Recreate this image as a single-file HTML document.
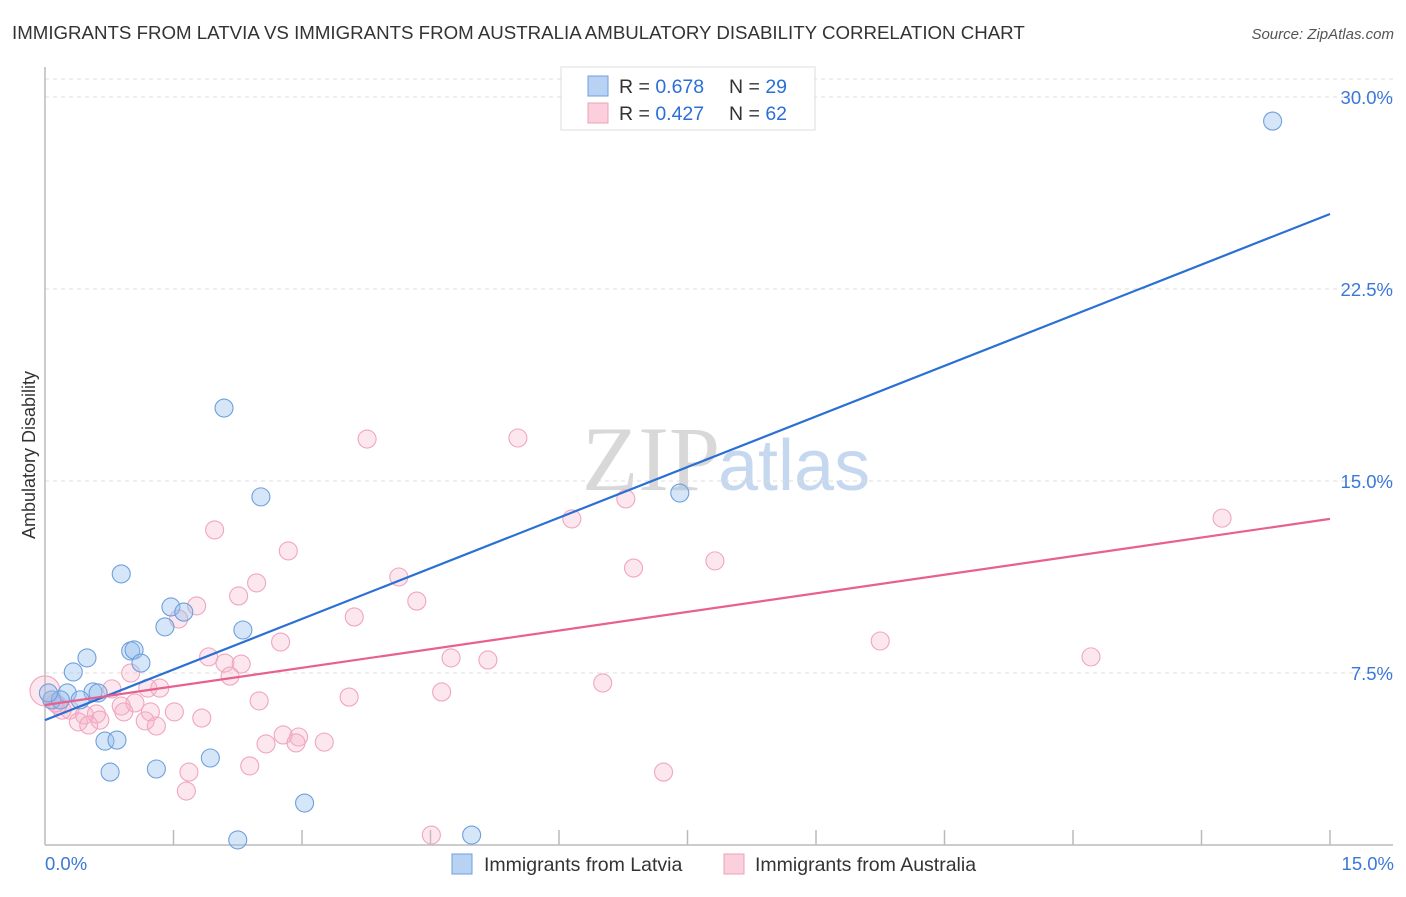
<!DOCTYPE html>
<html><head><meta charset="utf-8"><style>
body{margin:0;background:#fff;font-family:"Liberation Sans",sans-serif;}
</style></head><body>
<svg width="1406" height="892" xmlns="http://www.w3.org/2000/svg" style="font-family:'Liberation Sans',sans-serif">
<text x="12" y="39" font-size="18.7" fill="#333">IMMIGRANTS FROM LATVIA VS IMMIGRANTS FROM AUSTRALIA AMBULATORY DISABILITY CORRELATION CHART</text>
<text x="1394" y="39" font-size="15" fill="#555" font-style="italic" text-anchor="end">Source: ZipAtlas.com</text>
<text x="720" y="490" font-size="92" fill="#d8d8d8" text-anchor="end" font-family="'Liberation Serif',serif">ZIP</text>
<text x="718" y="490" font-size="72" fill="#c6d8ef">atlas</text>
<g id="grid"></g>
<g id="axes"></g>
<g id="pts"></g>
<g id="lines"></g>
<text transform="translate(35,455) rotate(-90)" font-size="18" fill="#333" text-anchor="middle">Ambulatory Disability</text>
<text x="45" y="870" font-size="18.5" fill="#3a78d8">0.0%</text>
<text x="1394" y="870" font-size="18.5" fill="#3a78d8" text-anchor="end">15.0%</text>
<g>
<rect x="561" y="67" width="254" height="63" fill="#fff" stroke="#ddd"/>
<rect x="588" y="76" width="20" height="20" fill="#b8d2f3" stroke="#6f9fdd"/>
<rect x="588" y="103" width="20" height="20" fill="#fbd0dc" stroke="#eea0ba"/>
<text x="619" y="93" font-size="19.5" fill="#333">R = <tspan fill="#2a6fd6">0.678</tspan></text>
<text x="729" y="93" font-size="19.5" fill="#333">N = <tspan fill="#2a6fd6">29</tspan></text>
<text x="619" y="120" font-size="19.5" fill="#333">R = <tspan fill="#2a6fd6">0.427</tspan></text>
<text x="729" y="120" font-size="19.5" fill="#333">N = <tspan fill="#2a6fd6">62</tspan></text>
</g>
<g><rect x="452" y="854" width="20" height="20" fill="#b8d2f3" stroke="#6f9fdd"/><text x="484" y="871" font-size="19.5" fill="#333">Immigrants from Latvia</text></g>
<g><rect x="724" y="854" width="20" height="20" fill="#fbd0dc" stroke="#eea0ba"/><text x="755" y="871" font-size="19.5" fill="#333">Immigrants from Australia</text></g>
</svg>
<script>
const yTicks=[7.5,15,22.5,30];
const yTickLabels=["7.5%","15.0%","22.5%","30.0%"];
const latviaX=[2.09,2.52,0.89,7.41,14.33,1.47,1.62,1.40,2.31,1.00,1.04,1.12,0.49,0.33,0.26,0.56,0.62,0.08,0.18,0.41,0.70,0.84,0.76,1.30,1.93,3.03,2.25,4.98,0.04];
const latviaY=[17.85,14.38,11.37,14.53,29.06,10.08,9.88,9.30,9.18,8.36,8.40,7.89,8.09,7.54,6.72,6.76,6.72,6.45,6.45,6.45,4.84,4.88,3.63,3.75,4.18,2.42,0.98,1.17,6.72];
const ausX=[3.76,5.52,6.15,6.78,13.74,1.98,2.84,4.13,6.87,7.82,2.47,2.26,1.77,4.34,1.56,3.61,2.75,9.75,12.21,1.91,2.10,2.29,4.74,5.17,2.16,1.00,0.78,1.20,1.34,6.51,4.63,3.55,2.50,0.89,1.05,1.23,0.92,0.29,0.60,0.46,0.64,0.39,0.51,1.17,1.30,1.51,1.83,2.78,2.96,2.58,2.93,3.26,2.39,1.68,1.65,7.22,4.51,0.12,0.20,0.00,0.08,0.15];
const ausY=[16.64,16.68,13.52,14.30,13.55,13.09,12.27,11.25,11.60,11.88,11.02,10.51,10.12,10.31,9.61,9.69,8.71,8.75,8.13,8.13,7.89,7.85,8.09,8.01,7.38,7.50,6.88,6.91,6.91,7.11,6.76,6.56,6.41,6.21,6.33,5.98,5.98,6.05,5.90,5.86,5.66,5.59,5.47,5.63,5.43,5.98,5.74,5.08,5.00,4.73,4.77,4.80,3.87,3.63,2.89,3.63,1.17,6.33,6.05,6.80,6.45,6.25];
const latviaTrend=[5.66,25.43];
const ausTrend=[6.25,13.52];
const trendX=[0,15];
const xs=v=>45+v/15*1285;
const ys=v=>865-v*25.6;
const NS="http://www.w3.org/2000/svg";
function mk(tag,attrs,parent){const e=document.createElementNS(NS,tag);for(const k in attrs)e.setAttribute(k,attrs[k]);document.getElementById(parent).appendChild(e);return e;}
yTicks.forEach((t,i)=>{
 const g=mk('line',{x1:45,x2:1393,y1:ys(t),y2:ys(t),stroke:'#ddd','stroke-dasharray':'4,4'},'grid');
 
 
 const l=mk('text',{x:1393,y:ys(t)+7,'font-size':18.5,fill:'#3a78d8','text-anchor':'end'},'grid');
 l.textContent=yTickLabels[i];
 
 
});
const tg=mk('line',{x1:45,x2:1393,y1:79,y2:79,stroke:'#ddd','stroke-dasharray':'4,4'},'grid');


const ya=mk('line',{x1:45,x2:45,y1:67,y2:845,stroke:'#bbb','stroke-width':1.5},'axes');


const xa=mk('line',{x1:45,x2:1393,y1:845,y2:845,stroke:'#bbb','stroke-width':1.5},'axes');


for(let i=1;i<=10;i++){const v=i*1.5;
 const t=mk('line',{x1:xs(v),x2:xs(v),y1:830,y2:845,stroke:'#bbb','stroke-width':1.5},'axes');
 
 }
ausX.forEach((x,i)=>{
 const c=mk('circle',{cx:xs(x),cy:ys(ausY[i]),r:(i===59?15:9),fill:'rgba(246,175,198,0.3)',stroke:'#f0a6be','stroke-width':1.1},'pts');
 
 
});
latviaX.forEach((x,i)=>{
 const c=mk('circle',{cx:xs(x),cy:ys(latviaY[i]),r:9,fill:'rgba(150,192,238,0.4)',stroke:'#6f9fdd','stroke-width':1.1},'pts');
 
 
});
const bl=mk('line',{x1:xs(trendX[0]),x2:xs(trendX[1]),y1:ys(latviaTrend[0]),y2:ys(latviaTrend[1]),stroke:'#2a6fd6','stroke-width':2.2},'lines');


const pl=mk('line',{x1:xs(trendX[0]),x2:xs(trendX[1]),y1:ys(ausTrend[0]),y2:ys(ausTrend[1]),stroke:'#e8608f','stroke-width':2.2},'lines');


</script>
</body></html>
